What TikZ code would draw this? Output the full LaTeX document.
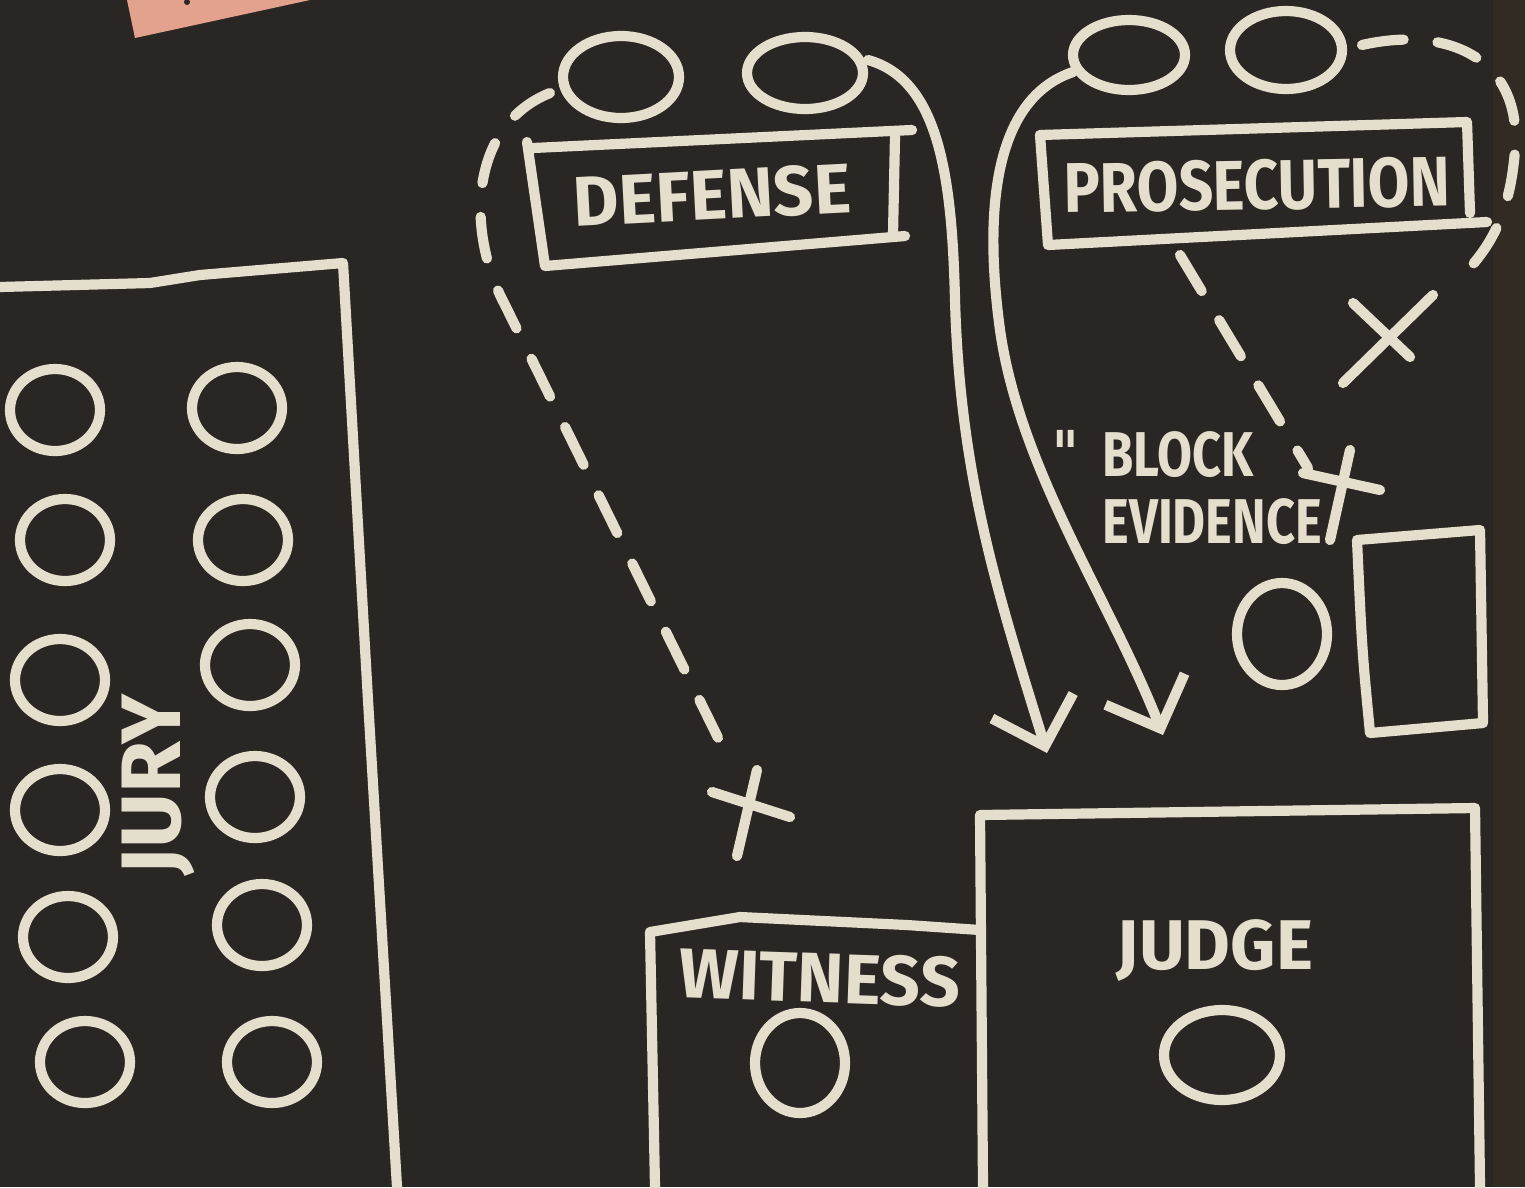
\documentclass[tikz,border=0pt]{standalone}
\usepackage{fontspec}
\setsansfont{Fira Sans}
\newfontfamily\quotefont{DejaVu Sans}
\usetikzlibrary{arrows.meta}
\definecolor{board}{HTML}{2A2623}
\definecolor{chalkwhite}{HTML}{E4DFCC}
\definecolor{note}{HTML}{E3A28D}

\begin{document}
\begin{tikzpicture}[x=0.01cm, y=-0.01cm,
  chalkline/.style={draw=chalkwhite, line width=2.9pt, line cap=round, line join=round},
  chalkdash/.style={chalkline, dash pattern=on 0.42cm off 0.34cm},
  chalktext/.style={text=chalkwhite, inner sep=0pt, font=\sffamily\bfseries\fontsize{20}{17}\selectfont},
  >={Straight Barb[length=0.42cm, width=0.85cm]}]
	\fill[board] (0,0) rectangle (1525,1187);
	\useasboundingbox (0,0) rectangle (1525,1187);
	\fill[board!95!brown] (1493,0) rectangle (1525,1187);
	\fill[note] (127,0) -- (310,0) -- (135,38) -- cycle;
	\fill[board] (187,2) circle (3);
	% jury box
	\draw[chalkline] (0,287) -- (150,283) -- (200,275) -- (343,263) -- (368,700) -- (397,1187);
	\foreach \cx/\cy in {55/410, 65/540, 60/680, 60/810, 68/937, 85/1062, 237/408, 243/540, 250/665, 255/797, 262/925, 272/1062}
		\draw[chalkline] (\cx,\cy) ellipse [x radius=45, y radius=41];
	\node[chalktext, rotate=90, font=\sffamily\bfseries\fontsize{24}{24}\selectfont] (jury) at (158,785) {JURY};
	% defense
	\draw[chalkline] (621,77) ellipse [x radius=58, y radius=41];
	\draw[chalkline] (805,73) ellipse [x radius=58, y radius=36];
	\coordinate (defL) at (550,93);
	\coordinate (defR) at (868,60);
	\draw[chalkline] (533,148) -- (912,130);
	\draw[chalkline] (527,142) -- (545,266) -- (905,236);
	\draw[chalkline] (895,136) -- (893,234);
	\node[chalktext, rotate=3] (defense) at (712,195) {DEFENSE};
	% prosecution
	\draw[chalkline] (1129,55) ellipse [x radius=56, y radius=35];
	\draw[chalkline] (1286,50) ellipse [x radius=56, y radius=39];
	\coordinate (prosL) at (1073,72);
	\coordinate (prosR) at (1362,45);
	\draw[chalkline] (1040,135) -- (1467,122) -- (1470,213);
	\draw[chalkline] (1040,135) -- (1048,245) -- (1487,222);
	\node[chalktext, rotate=1, xscale=0.86] (prosecution) at (1257,185) {PROSECUTION};
	\coordinate (prosB) at (1180,255);
	% witness and judge
	\draw[chalkline] (983,1187) -- (980,815) -- (1475,808) -- (1480,1187);
	\draw[chalkline] (655,1187) -- (650,932) -- (740,917) -- (907,925) -- (980,930);
	\node[chalktext, rotate=-2] (witness) at (820,978) {WITNESS};
	\node[chalktext] (judge) at (1215,950) {JUDGE};
	\draw[chalkline] (800,1063) ellipse [x radius=45, y radius=50];
	\draw[chalkline] (1222,1055) ellipse [x radius=58, y radius=45];
	\draw[chalkline] (1282,634) ellipse [x radius=45, y radius=51];
	\draw[chalkline] (1357,540) -- (1480,530) -- (1483,723) -- (1370,733) .. controls (1362,650) .. (1357,540);
	% objections and moves
	\draw[chalkdash] (defL) .. controls (470,125) and (465,230) .. (505,305) -- (728,758);
	\draw[chalkline] (712,792) -- (790,817);
	\draw[chalkline] (757,770) -- (737,856);
	\draw[chalkline, ->] (defR) .. controls (940,80) and (952,180) .. (955,300) .. controls (960,480) and (1000,600) .. (1047,753);
	\draw[chalkline, ->] (prosL) .. controls (990,100) and (985,220) .. (1000,330) .. controls (1020,470) and (1110,600) .. (1163,735);
	\draw[chalkdash] (prosR) .. controls (1450,25) and (1522,60) .. (1515,150) .. controls (1510,215) and (1490,250) .. (1455,283);
	\draw[chalkline] (1353,303) -- (1410,357);
	\draw[chalkline] (1433,295) -- (1343,383);
	\draw[chalkdash] (prosB) -- (1308,468);
	\draw[chalkline] (1303,473) -- (1380,490);
	\draw[chalkline] (1350,450) -- (1330,540);
	\node[chalktext, align=left, anchor=north west, xscale=0.8, font=\sffamily\bfseries\fontsize{18}{19}\selectfont] (block) at (1102,430) {\llap{{\quotefont\char"22}\ \ }BLOCK\\EVIDENCE};
\end{tikzpicture}
\end{document}
